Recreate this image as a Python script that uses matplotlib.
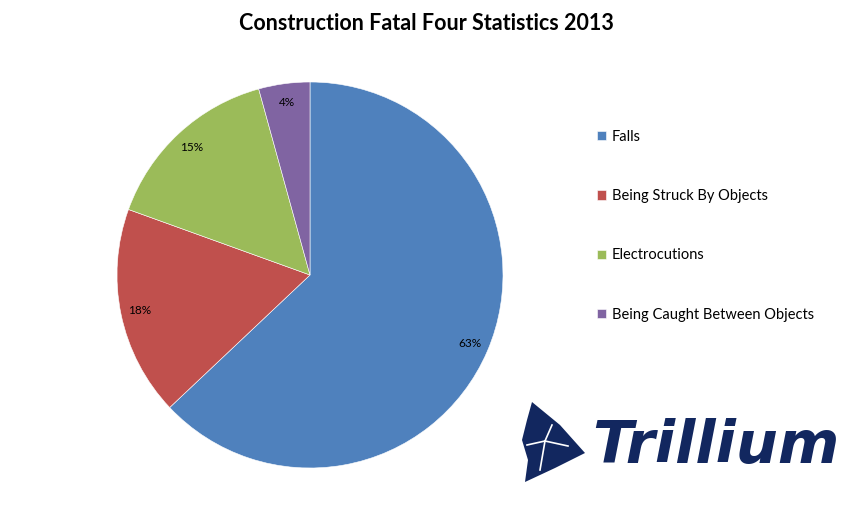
import matplotlib.pyplot as plt
from matplotlib.patches import Polygon
import numpy as np

plt.rcParams['font.family'] = ['Lato', 'DejaVu Sans']

categories = ["Falls", "Being Struck By Objects", "Electrocutions", "Being Caught Between Objects"]
deaths = [294, 82, 71, 20]
colors = ["#4F81BD", "#C0504D", "#9BBB59", "#8064A2"]

W, H = 853, 505
fig = plt.figure(figsize=(W / 100, H / 100), dpi=100)

# pie axes, square, in pixel coords of the reference
ax = fig.add_axes([117 / W, 1 - 468 / H, 386 / W, 386 / H])
wedges, texts, autotexts = ax.pie(deaths, colors=colors, startangle=90, counterclock=False,
                                  autopct=lambda p: "%d%%" % round(p), pctdistance=0.9,
                                  wedgeprops=dict(linewidth=0.4, edgecolor="white"),
                                  textprops=dict(fontsize=8.5, color="black"))
ax.set_aspect("equal")
ax.set_xlim(-1, 1)
ax.set_ylim(-1, 1)

fig.text(426 / W, 1 - 23 / H, "Construction Fatal Four Statistics 2013",
         ha="center", va="center", fontsize=15.5, fontweight="bold")

leg = fig.legend(wedges, categories, loc="upper left", bbox_to_anchor=(597 / W, 1 - 130 / H),
                 frameon=False, fontsize=10.5, handlelength=0.6, handleheight=0.6,
                 handletextpad=0.4, labelspacing=3.1, borderaxespad=0, borderpad=0)

# Trillium logo
def px(x, y):
    return (x / W, 1 - y / H)

logo = Polygon([px(532, 402), px(560, 425), px(585, 453), px(555, 468), px(525, 482),
                px(528, 460), px(522, 440), px(527, 420)],
               closed=True, transform=fig.transFigure, facecolor="#12275F", edgecolor="none")
fig.patches.append(logo)
for seg in [[(527, 445), (545, 441), (568, 446)], [(545, 441), (552, 425)], [(545, 441), (540, 470)]]:
    xs, ys = zip(*[px(a, b) for a, b in seg])
    fig.add_artist(plt.Line2D(xs, ys, transform=fig.transFigure, color="white", lw=1.2))

fig.text(592 / W, 1 - 446 / H, "Trillium", ha="left", va="center", fontsize=42.5,
         fontweight="bold", fontstyle="italic", color="#12275F", family="DejaVu Sans")

fig.savefig("out.png", dpi=100)
